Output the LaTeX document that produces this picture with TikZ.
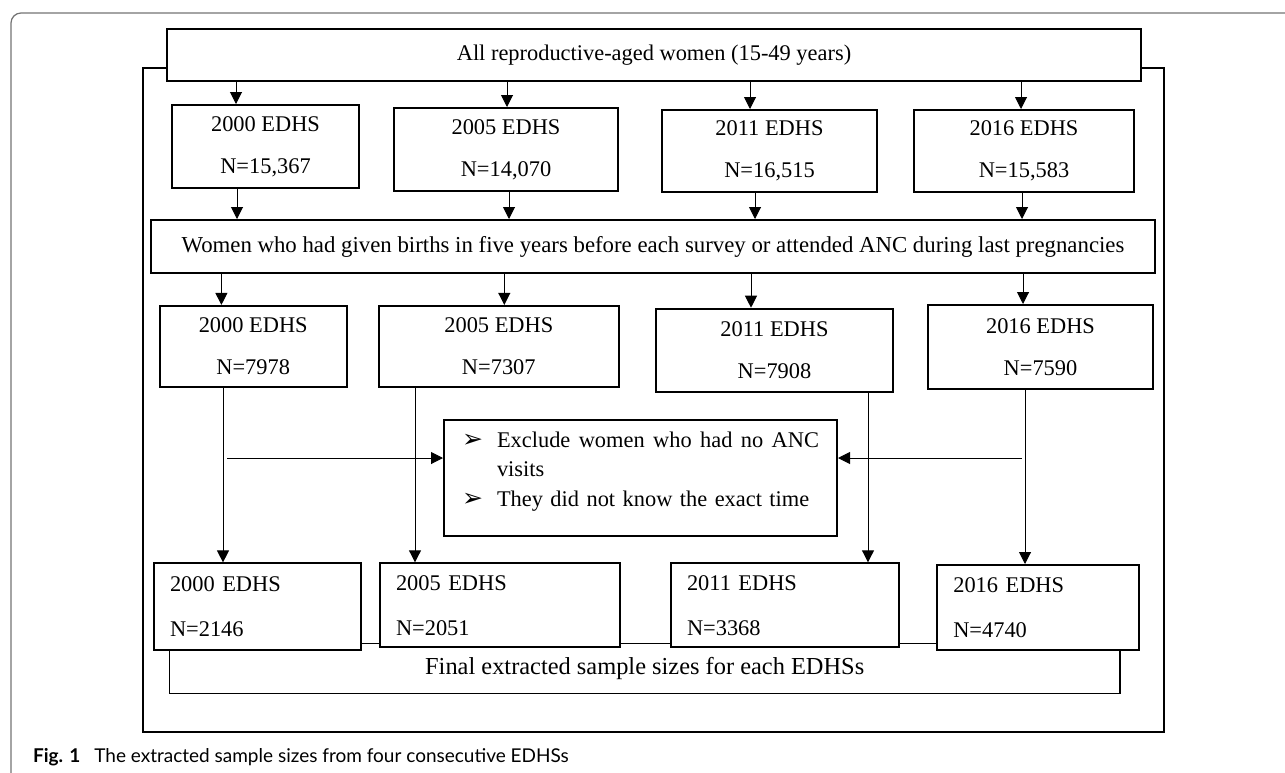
\documentclass[tikz,border=0pt]{standalone}
\usepackage{fontspec}
\setmainfont{Liberation Serif}
\newfontfamily\capfont{Lato}
\newfontfamily\dejavu{DejaVu Sans}
\usetikzlibrary{arrows.meta}

\begin{document}
\begin{tikzpicture}[x=0.5pt,y=-0.5pt,
  every node/.style={font=\fontsize{11.2}{13.5}\selectfont},
  topbox/.style={draw, line width=1pt, fill=white, inner sep=0pt},
  yearbox/.style={draw, line width=1pt, fill=white, align=center, inner sep=0pt},
  finbox/.style={draw, line width=1pt, fill=white, align=left, inner ysep=0pt, inner xsep=8pt},
  arr/.style={-{Triangle[length=6pt,width=6pt]}, line width=0.5pt},
  link/.style={line width=0.5pt}]
\useasboundingbox (0,0) rectangle (1285,772);
% frame of the figure and the outer box
\draw[black!55, line width=0.6pt, rounded corners=5pt] (11,13) rectangle (1320,800);
\draw[line width=1pt] (143,68) rectangle (1164,732);
\node[topbox, minimum width=487pt, minimum height=26pt] (all) at (654,55) {All reproductive-aged women (15-49 years)};
% first round of surveys
\node[yearbox, minimum width=93.5pt, minimum height=41.5pt] (s00) at (265.5,146.5) {2000 EDHS\\[7.5pt]N=15,367};
\node[yearbox, minimum width=112pt, minimum height=41.5pt] (s05) at (506,149.5) {2005 EDHS\\[7.5pt]N=14,070};
\node[yearbox, minimum width=107.5pt, minimum height=41pt] (s11) at (769.5,151) {2011 EDHS\\[7.5pt]N=16,515};
\node[yearbox, minimum width=110pt, minimum height=41pt] (s16) at (1024,151) {2016 EDHS\\[7.5pt]N=15,583};
\node[topbox, minimum width=502pt, minimum height=26.5pt, font=\fontsize{11.4}{13.5}\selectfont] (birth) at (653,246.5) {Women who had given births in five years before each survey or attended ANC during last pregnancies};
% women with births
\node[yearbox, minimum width=93.6pt, minimum height=40.5pt] (b00) at (253.2,346.4) {2000 EDHS\\[7.5pt]N=7978};
\node[yearbox, minimum width=120.2pt, minimum height=40.5pt] (b05) at (498.8,346.4) {2005 EDHS\\[7.5pt]N=7307};
\node[yearbox, minimum width=118.8pt, minimum height=41.5pt] (b11) at (774.5,350.2) {2011 EDHS\\[7.5pt]N=7908};
\node[yearbox, minimum width=112.5pt, minimum height=42pt] (b16) at (1040.5,347) {2016 EDHS\\[7.5pt]N=7590};
% exclusion criteria
\node[draw, line width=1pt, fill=white, align=left, text width=178.5pt, inner xsep=9pt, inner ysep=0pt,
  minimum height=58pt, font=\fontsize{11.2}{14.85}\selectfont] (excl) at (640.5,478)
  {\makebox[17.5pt][l]{\dejavu\fontsize{12.5}{10}\selectfont ➢}\makebox[161pt][l]{Exclude\hfill women\hfill who\hfill had\hfill no\hfill ANC}\\
   \hspace*{17.5pt}visits\\
   \makebox[17.5pt][l]{\dejavu\fontsize{12.5}{10}\selectfont ➢}They did not know the exact time\rule[-9pt]{0pt}{9pt}};
% final samples
\node[draw, line width=0.8pt, minimum width=475.3pt, minimum height=25pt, inner sep=0pt,
  font=\fontsize{12.2}{14}\selectfont] (final) at (644.7,668.3) {Final extracted sample sizes for each EDHSs};
\node[finbox, text width=87.5pt, minimum height=43.3pt] (f00) at (257.5,606.7) {2000 EDHS\\[9pt]N=2146};
\node[finbox, text width=104pt, minimum height=42pt] (f05) at (500,605.3) {2005 EDHS\\[9pt]N=2051};
\node[finbox, text width=98.2pt, minimum height=42pt] (f11) at (785.2,605.3) {2011 EDHS\\[9pt]N=3368};
\node[finbox, text width=85pt, minimum height=42.5pt] (f16) at (1038.3,607.5) {2016 EDHS\\[9pt]N=4740};
% columns of the arrows
\coordinate (t1) at (236,0);
\coordinate (t2) at (507,0);
\coordinate (t3) at (750,0);
\coordinate (t4) at (1021,0);
\coordinate (m1) at (237,0);
\coordinate (m2) at (509,0);
\coordinate (m3) at (755,0);
\coordinate (m4) at (1022,0);
\coordinate (n1) at (221.4,0);
\coordinate (n2) at (504.3,0);
\coordinate (n3) at (751,0);
\coordinate (n4) at (1023,0);
\coordinate (d1) at (223,0);
\coordinate (d2) at (415,0);
\coordinate (d3) at (868,0);
\coordinate (d4) at (1025,0);
\coordinate (lj) at (227,458);
\coordinate (rj) at (1021.7,458);
\draw[arr] (all.south -| t1) -- (s00.north -| t1);
\draw[arr] (all.south -| t2) -- (s05.north -| t2);
\draw[arr] (all.south -| t3) -- (s11.north -| t3);
\draw[arr] (all.south -| t4) -- (s16.north -| t4);
\draw[arr] (s00.south -| m1) -- (birth.north -| m1);
\draw[arr] (s05.south -| m2) -- (birth.north -| m2);
\draw[arr] (s11.south -| m3) -- (birth.north -| m3);
\draw[arr] (s16.south -| m4) -- (birth.north -| m4);
\draw[arr] (birth.south -| n1) -- (b00.north -| n1);
\draw[arr] (birth.south -| n2) -- (b05.north -| n2);
\draw[arr] (birth.south -| n3) -- (b11.north -| n3);
\draw[arr] (birth.south -| n4) -- (b16.north -| n4);
\draw[arr] (b00.south -| d1) -- (f00.north -| d1);
\draw[arr] (b05.south -| d2) -- (f05.north -| d2);
\draw[arr] (b11.south -| d3) -- (f11.north -| d3);
\draw[arr] (b16.south -| d4) -- (f16.north -| d4);
\draw[arr] (lj) -- (lj -| excl.west);
\draw[arr] (rj) -- (rj -| excl.east);
% caption
\node[anchor=west, font=\capfont\fontsize{9.5}{11}\selectfont] (cap) at (26,757) {\textbf{Fig. 1}\hspace{7pt}The extracted sample sizes from four consecutive EDHSs};
\end{tikzpicture}
\end{document}
